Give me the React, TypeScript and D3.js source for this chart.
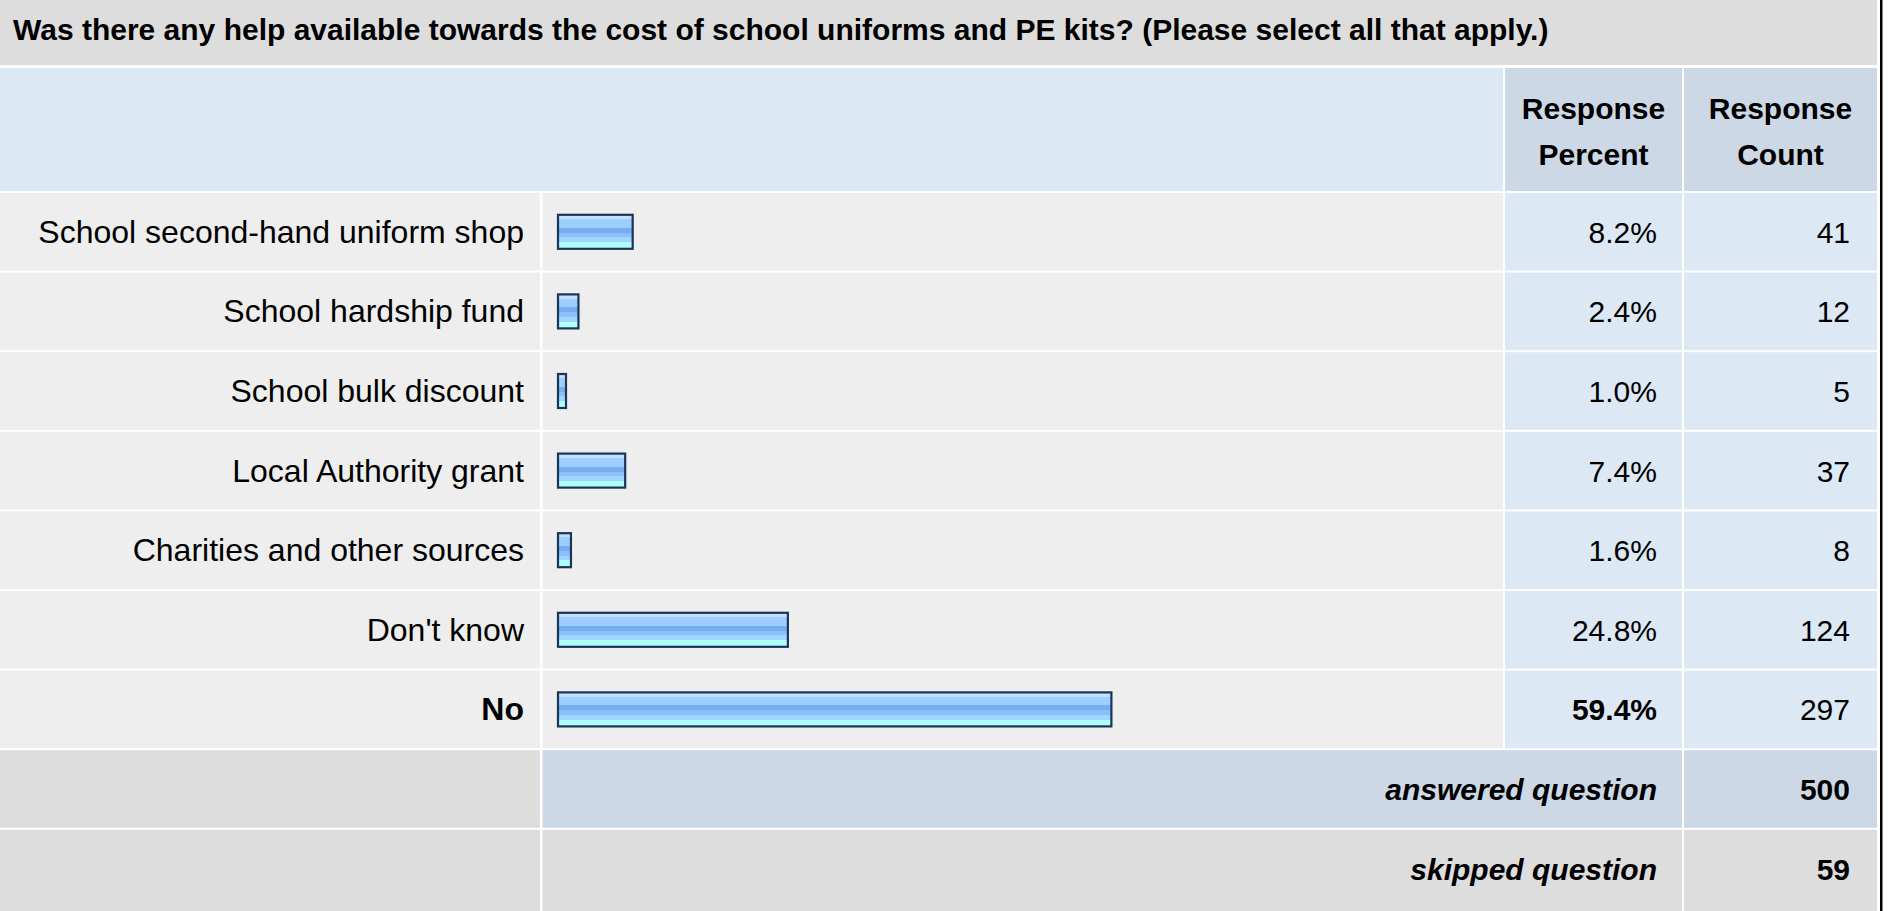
import React from "react";
import * as d3 from "d3";

const TITLE =
  "Was there any help available towards the cost of school uniforms and PE kits? (Please select all that apply.)";
const CATEGORIES = [
  "School second-hand uniform shop",
  "School hardship fund",
  "School bulk discount",
  "Local Authority grant",
  "Charities and other sources",
  "Don't know",
  "No",
];
const PERCENTS = [8.2, 2.4, 1.0, 7.4, 1.6, 24.8, 59.4];
const COUNTS = [41, 12, 5, 37, 8, 124, 297];
const HEADERS = [
  ["Response", "Percent"],
  ["Response", "Count"],
];
const FOOTER_LABELS = ["answered question", "skipped question"];
const FOOTER_VALUES = [500, 59];

const W = 1892;
const H = 911;
const FONT = "'Liberation Sans', Arial, Helvetica, sans-serif";
const GAP = 2;

// column edges
const LABEL_COL = [0, 540];
const BAR_COL = [542.5, 1503];
const PCT_COL = [1505, 1682];
const CNT_COL = [1684, 1877];

const GREY = "#dddddd";
const ROW_GREY = "#eeeeee";
const LIGHT_BLUE = "#dde8f5";
const DARK_BLUE = "#ccd8e6";

export default function App() {
  const rowKeys = [...CATEGORIES, ...FOOTER_LABELS];
  const y = d3
    .scaleBand<string>()
    .domain(rowKeys)
    .range([191, 191 + 79.6 * rowKeys.length]);
  const x = d3.scaleLinear().domain([0, 100]).range([0, 935]);
  const maxIdx = d3.maxIndex(PERCENTS);
  const fmt = d3.format(".1f");

  const rowTop = (k: string) => (y(k) as number) + GAP;
  const rowH = y.bandwidth() - GAP;
  const mid = (k: string) => rowTop(k) + rowH / 2;

  return (
    <svg
      width={W}
      height={H}
      style={{ position: "absolute", left: 0, top: 0, display: "block" }}
      fontFamily={FONT}
    >
      <defs>
        <linearGradient id="barGrad" x1="0" y1="0" x2="0" y2="1">
          <stop offset="0" stopColor="#c2e0ff" />
          <stop offset="0.125" stopColor="#c2e0ff" />
          <stop offset="0.125" stopColor="#9dceff" />
          <stop offset="0.38" stopColor="#9dceff" />
          <stop offset="0.38" stopColor="#78adef" />
          <stop offset="0.53" stopColor="#78adef" />
          <stop offset="0.53" stopColor="#8cc0fa" />
          <stop offset="0.66" stopColor="#8cc0fa" />
          <stop offset="0.66" stopColor="#9fd6ff" />
          <stop offset="0.8" stopColor="#9fd6ff" />
          <stop offset="0.8" stopColor="#b0ffff" />
          <stop offset="1" stopColor="#b0ffff" />
        </linearGradient>
      </defs>
      <rect width={W} height={H} fill="#ffffff" />

      {/* title bar */}
      <rect x={0} y={0} width={CNT_COL[1]} height={65} fill={GREY} />
      <text x={13} y={40} fontSize={30} fontWeight="bold" fill="#000">
        {TITLE}
      </text>

      {/* header row */}
      <rect x={0} y={68} width={PCT_COL[0] - GAP} height={123} fill={LIGHT_BLUE} />
      {[PCT_COL, CNT_COL].map((c, i) => (
        <g key={i}>
          <rect x={c[0]} y={68} width={c[1] - c[0]} height={123} fill={DARK_BLUE} />
          {HEADERS[i].map((t, j) => (
            <text
              key={j}
              x={(c[0] + c[1]) / 2}
              y={119 + j * 46}
              textAnchor="middle"
              fontSize={30}
              fontWeight="bold"
              fill="#000"
            >
              {t}
            </text>
          ))}
        </g>
      ))}

      {/* data rows */}
      {CATEGORIES.map((cat, i) => {
        const top = rowTop(cat);
        const cy = mid(cat);
        const bold = i === maxIdx;
        const bw = Math.max(x(PERCENTS[i]), 10);
        return (
          <g key={cat}>
            <rect x={LABEL_COL[0]} y={top} width={LABEL_COL[1] - LABEL_COL[0]} height={rowH} fill={ROW_GREY} />
            <rect x={BAR_COL[0]} y={top} width={BAR_COL[1] - BAR_COL[0]} height={rowH} fill={ROW_GREY} />
            <rect x={PCT_COL[0]} y={top} width={PCT_COL[1] - PCT_COL[0]} height={rowH} fill={LIGHT_BLUE} />
            <rect x={CNT_COL[0]} y={top} width={CNT_COL[1] - CNT_COL[0]} height={rowH} fill={LIGHT_BLUE} />
            <text
              x={524}
              y={cy + 11}
              textAnchor="end"
              fontSize={32}
              fontWeight={bold ? "bold" : "normal"}
              fill="#000"
            >
              {cat}
            </text>
            <rect
              x={558}
              y={cy - 17}
              width={bw - 2}
              height={34}
              fill="url(#barGrad)"
              stroke="#1b3457"
              strokeWidth={2.2}
            />
            <text
              x={1657}
              y={cy + 11}
              textAnchor="end"
              fontSize={30}
              fontWeight={bold ? "bold" : "normal"}
              fill="#000"
            >
              {fmt(PERCENTS[i])}%
            </text>
            <text x={1850} y={cy + 11} textAnchor="end" fontSize={30} fill="#000">
              {COUNTS[i]}
            </text>
          </g>
        );
      })}

      {/* footer rows */}
      {FOOTER_LABELS.map((lab, i) => {
        const top = rowTop(lab);
        const cy = mid(lab);
        const fill = i === 0 ? DARK_BLUE : GREY;
        const h = i === FOOTER_LABELS.length - 1 ? H - top : rowH;
        return (
          <g key={lab}>
            <rect x={LABEL_COL[0]} y={top} width={LABEL_COL[1] - LABEL_COL[0]} height={h} fill={GREY} />
            <rect x={BAR_COL[0]} y={top} width={PCT_COL[1] - BAR_COL[0]} height={h} fill={fill} />
            <rect x={CNT_COL[0]} y={top} width={CNT_COL[1] - CNT_COL[0]} height={h} fill={fill} />
            <text
              x={1657}
              y={cy + 11}
              textAnchor="end"
              fontSize={30}
              fontWeight="bold"
              fontStyle="italic"
              fill="#000"
            >
              {lab}
            </text>
            <text x={1850} y={cy + 11} textAnchor="end" fontSize={30} fontWeight="bold" fill="#000">
              {FOOTER_VALUES[i]}
            </text>
          </g>
        );
      })}

      {/* right frame edge */}
      <rect x={1880} y={0} width={2.5} height={H} fill="#000" />
    </svg>
  );
}
